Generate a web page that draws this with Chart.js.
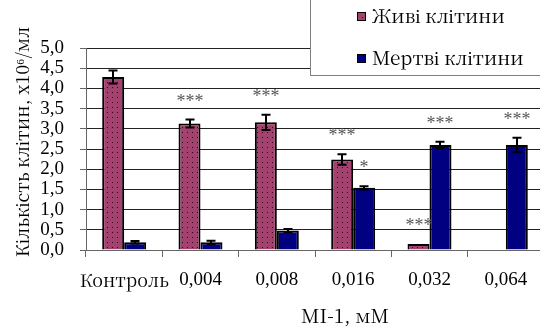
<!DOCTYPE html>
<html><head><meta charset="utf-8">
<script src="https://cdn.jsdelivr.net/npm/chart.js@4"></script>
<style>html,body{margin:0;padding:0;overflow:hidden;background:#fff;width:540px;height:332px}canvas{display:block}
#pre{position:absolute;left:-999px;top:0;font-size:19px}</style>
</head><body><div id="pre"><span style="font-family:'Noto Serif CJK SC'">Кількість</span><span style="font-family:'Liberation Serif'">0,5</span></div><canvas id="c" width="546" height="332" style="width:546px;height:332px"></canvas>
<script>
const categories = ['Контроль', '0,004', '0,008', '0,016', '0,032', '0,064'];
const liveCells = [4.28, 3.13, 3.16, 2.24, 0.15, null];
const liveErr = [0.16, 0.10, 0.19, 0.13, 0.0, 0];
const deadCells = [0.19, 0.19, 0.48, 1.54, 2.60, 2.60];
const deadErr = [0.03, 0.04, 0.04, 0.04, 0.08, 0.18];
const liveStars = ['', '***', '***', '***', '***', ''];
const deadStars = ['', '', '', '*', '***', '***'];
const yTickLabels = ['0,0', '0,5', '1,0', '1,5', '2,0', '2,5', '3,0', '3,5', '4,0', '4,5', '5,0'];
const seriesNames = ['Живі клітини', 'Мертві клітини'];
const yTitle = 'Кількість клітин, x10⁶/мл';
const xTitle = 'MI-1, мМ';

const serif = '"Liberation Serif", serif';
const cyr = '"Noto Serif CJK SC", "Liberation Serif", serif';
function makePattern() {
  const c = document.createElement('canvas'); c.width = 5; c.height = 5;
  const g = c.getContext('2d');
  g.fillStyle = '#A3416F'; g.fillRect(0, 0, 5, 5);
  g.fillStyle = '#2b0718'; g.fillRect(2, 2, 1, 1);
  return g.createPattern(c, 'repeat');
}
const pinkPattern = makePattern();
const navy = '#000080';

const extras = {
  id: 'extras',
  afterDatasetsDraw(chart) {
    const ctx = chart.ctx, ys = chart.scales.y;
    ctx.save();
    [[0, liveErr, liveStars], [1, deadErr, deadStars]].forEach(([di, errs, stars]) => {
      const meta = chart.getDatasetMeta(di);
      meta.data.forEach((bar, i) => {
        const v = chart.data.datasets[di].data[i];
        if (v == null) return;
        const e = errs[i];
        const x = Math.round(bar.x);
        if (e > 0) {
          const t = ys.getPixelForValue(v + e), b = ys.getPixelForValue(v - e);
          ctx.strokeStyle = '#000'; ctx.lineWidth = 2;
          ctx.beginPath();
          ctx.moveTo(x, t); ctx.lineTo(x, b);
          ctx.moveTo(x - 4.5, t); ctx.lineTo(x + 4.5, t);
          ctx.moveTo(x - 4.5, b); ctx.lineTo(x + 4.5, b);
          ctx.stroke();
        }
        if (stars[i]) {
          ctx.fillStyle = '#555';
          ctx.font = '18px ' + serif;
          ctx.textAlign = 'center'; ctx.textBaseline = 'alphabetic';
          ctx.fillText(stars[i], x, ys.getPixelForValue(v + e) - 13);
        }
      });
    });
    ctx.restore();
  },
  afterDraw(chart) {
    const ctx = chart.ctx, area = chart.chartArea;
    ctx.save();
    ctx.fillStyle = '#fff';
    ctx.strokeStyle = '#808080'; ctx.lineWidth = 1;
    ctx.fillRect(310.5, -5, 260, 80.5);
    ctx.strokeRect(310.5, -5, 260, 80.5);
    const items = [[pinkPattern, 16], [navy, 58]];
    ctx.font = '19px ' + cyr; ctx.textBaseline = 'middle'; ctx.textAlign = 'left';
    items.forEach(([col, yy], k) => {
      ctx.fillStyle = col; ctx.fillRect(357, yy - 4, 8, 8);
      ctx.strokeStyle = '#000'; ctx.lineWidth = 1; ctx.strokeRect(357.5, yy - 3.5, 8, 8);
      ctx.fillStyle = '#000'; ctx.fillText(seriesNames[k], 372, yy);
    });
    ctx.fillStyle = '#000';
    ctx.font = '19px ' + cyr; ctx.textAlign = 'center'; ctx.textBaseline = 'middle';
    ctx.fillText(xTitle, (area.left + area.right) / 2 + 30, 316);
    ctx.translate(22, 142); ctx.rotate(-Math.PI / 2);
    ctx.font = '18px ' + cyr;
    ctx.fillText(yTitle, 0, 0);
    ctx.restore();
  }
};

function build() {
new Chart(document.getElementById('c'), {
  type: 'bar',
  data: {
    labels: categories,
    datasets: [
      { label: seriesNames[0], data: liveCells, backgroundColor: pinkPattern, borderColor: '#000', borderWidth: 2, borderSkipped: 'bottom' },
      { label: seriesNames[1], data: deadCells, backgroundColor: navy, borderColor: '#000', borderWidth: 2, borderSkipped: 'bottom' }
    ]
  },
  options: {
    responsive: false, animation: false,
    layout: { padding: { top: 48, right: 2, left: 0, bottom: 0 } },
    plugins: { legend: { display: false }, tooltip: { enabled: false } },
    datasets: { bar: { categoryPercentage: 0.576, barPercentage: 1 } },
    scales: {
      x: {
        offset: true,
        grid: { offset: true, drawOnChartArea: false, drawTicks: true, tickLength: 7, tickColor: '#666', color: '#666' },
        border: { color: '#666', width: 1 },
        ticks: { color: '#000', font: (c) => ({ family: c.index === 0 ? cyr : serif, size: c.index === 0 ? 18 : 19 }), padding: 12, maxRotation: 0, autoSkip: false },
        afterFit(s) { s.height = 82; s.paddingLeft = 0; s.paddingRight = 0; }
      },
      y: {
        min: 0, max: 5,
        ticks: { stepSize: 0.5, autoSkip: false, color: '#000', font: { family: serif, size: 19 }, padding: 16,
          callback: (v, i) => yTickLabels[i] },
        grid: { color: '#222', lineWidth: 1, tickLength: 6, tickColor: '#666' },
        border: { color: '#666', width: 1 },
        afterFit(s) { s.width = 86; s.paddingTop = 0; s.paddingBottom = 0; }
      }
    }
  },
  plugins: [extras]
});
}
if (document.fonts && document.fonts.load) {
  Promise.all([document.fonts.load('19px "Liberation Serif"', '0,5'), document.fonts.load('19px "Noto Serif CJK SC"', 'Кількість')]).then(build, build);
} else build();
</script>
</body></html>
